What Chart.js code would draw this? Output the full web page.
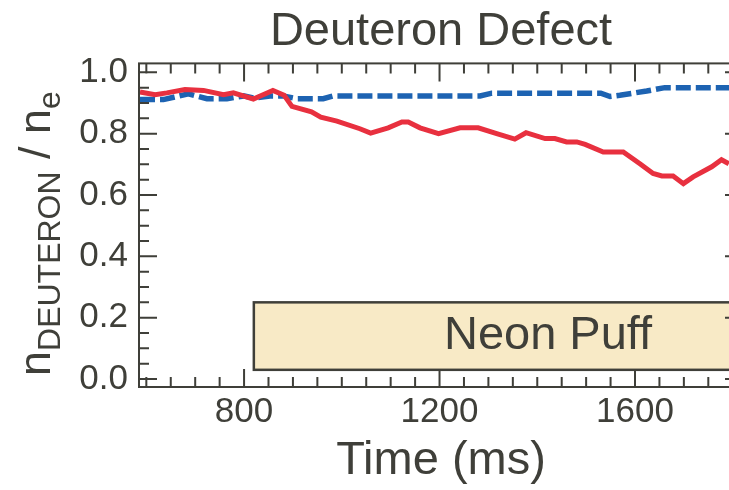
<!DOCTYPE html>
<html>
<head>
<meta charset="utf-8">
<script src="https://cdn.jsdelivr.net/npm/chart.js@4/dist/chart.umd.min.js"></script>
<style>
  html, body { margin: 0; padding: 0; background: #fff; overflow: hidden; }
  canvas { display: block; }
</style>
</head>
<body>
<canvas id="defectChart" width="760" height="490"></canvas>
<script>
// Deuteron fraction
const redTimes = [587, 618, 642, 679, 717, 758, 778, 819, 859, 882, 898, 938, 957, 990, 1037, 1059, 1095, 1123, 1136, 1160, 1198, 1242, 1279, 1317, 1354, 1377, 1416, 1436, 1460, 1481, 1498, 1535, 1576, 1610, 1637, 1655, 1678, 1699, 1719, 1757, 1777, 1792];
const redValues = [0.936, 0.927, 0.933, 0.944, 0.941, 0.927, 0.933, 0.913, 0.941, 0.925, 0.889, 0.871, 0.854, 0.841, 0.816, 0.802, 0.819, 0.838, 0.838, 0.819, 0.800, 0.819, 0.819, 0.800, 0.782, 0.803, 0.784, 0.784, 0.773, 0.773, 0.765, 0.740, 0.740, 0.702, 0.670, 0.662, 0.662, 0.637, 0.659, 0.692, 0.715, 0.702];
const blueTimes = [587, 635, 686, 724, 765, 799, 819, 853, 880, 908, 962, 983, 1283, 1307, 1530, 1549, 1569, 1596, 1624, 1661, 1821];
const blueValues = [0.911, 0.911, 0.930, 0.914, 0.914, 0.923, 0.916, 0.923, 0.923, 0.914, 0.914, 0.923, 0.923, 0.932, 0.932, 0.921, 0.925, 0.932, 0.939, 0.950, 0.950];

const xTickValues = [800, 1200, 1600];
const yTickValues = [0.0, 0.2, 0.4, 0.6, 0.8, 1.0];
const xRange = [585, 1821];
const yRange = [-0.026, 1.029];

// neon puff window
const puffStart = 820;
const puffEnd = 1900;
const puffLow = 0.03;
const puffHigh = 0.25;
const puffLabel = "Neon Puff";
const puffLabelX = 1422;
const puffLabelY = 0.14;

const INK = "#3f3f39";
const FONT = "'Liberation Sans', Arial, sans-serif";

const toPoints = (xs, ys) => xs.map((x, i) => ({ x: x, y: ys[i] }));

// shaded box for the puff
const puffBox = {
  id: "puffBox",
  beforeDatasetsDraw(chart) {
    const { ctx, scales } = chart;
    const x0 = scales.x.getPixelForValue(puffStart);
    const x1 = scales.x.getPixelForValue(puffEnd);
    const y0 = scales.y.getPixelForValue(puffHigh);
    const y1 = scales.y.getPixelForValue(puffLow);
    ctx.save();
    ctx.fillStyle = "#f8eac6";
    ctx.fillRect(x0, y0, x1 - x0, y1 - y0);
    ctx.strokeStyle = INK;
    ctx.lineWidth = 2.5;
    ctx.strokeRect(x0, y0, x1 - x0, y1 - y0);
    ctx.fillStyle = INK;
    ctx.font = "47px " + FONT;
    ctx.textAlign = "center";
    ctx.textBaseline = "middle";
    ctx.fillText(puffLabel, scales.x.getPixelForValue(puffLabelX), scales.y.getPixelForValue(puffLabelY));
    ctx.restore();
  },
};

// frame with inward ticks on all four sides
const frame = {
  id: "frame",
  afterDatasetsDraw(chart) {
    const { ctx, chartArea: a, scales } = chart;
    const major = 18, minor = 10;
    ctx.save();
    ctx.strokeStyle = INK;
    ctx.lineWidth = 2;
    ctx.strokeRect(a.left, a.top, a.right - a.left, a.bottom - a.top);
    ctx.beginPath();
    for (let v = 600; v <= xRange[1]; v += 50) {
      const px = scales.x.getPixelForValue(v);
      const len = xTickValues.includes(v) ? major : minor;
      ctx.moveTo(px, a.bottom); ctx.lineTo(px, a.bottom - len);
      ctx.moveTo(px, a.top); ctx.lineTo(px, a.top + len);
    }
    for (let i = 0; i <= 20; i++) {
      const v = i * 0.05;
      const py = scales.y.getPixelForValue(v);
      const len = i % 4 === 0 ? major : minor;
      ctx.moveTo(a.left, py); ctx.lineTo(a.left + len, py);
      ctx.moveTo(a.right, py); ctx.lineTo(a.right - len, py);
    }
    ctx.stroke();
    ctx.restore();
  },
};

// y title with subscripts, drawn rotated
const yTitle = {
  id: "yTitle",
  afterDraw(chart) {
    const { ctx } = chart;
    const parts = [
      ["n", 45, 0],
      ["DEUTERON", 32, 10],
      [" / n", 45, 0],
      ["e", 32, 10],
    ];
    ctx.save();
    ctx.translate(50, 376);
    ctx.rotate(-Math.PI / 2);
    ctx.fillStyle = INK;
    ctx.textBaseline = "alphabetic";
    ctx.textAlign = "left";
    let pos = 0;
    parts.forEach(([text, size, shift]) => {
      ctx.font = size + "px " + FONT;
      ctx.fillText(text, pos, shift);
      pos += ctx.measureText(text).width;
    });
    ctx.restore();
  },
};

new Chart(document.getElementById("defectChart"), {
  type: "line",
  data: {
    datasets: [
      {
        label: "red",
        data: toPoints(redTimes, redValues),
        borderColor: "#e8303f",
        borderWidth: 5,
        pointRadius: 0,
        tension: 0,
      },
      {
        label: "blue",
        data: toPoints(blueTimes, blueValues),
        borderColor: "#1d63b2",
        borderWidth: 5.5,
        borderDash: [15, 5],
        pointRadius: 0,
        tension: 0,
      },
    ],
  },
  options: {
    responsive: false,
    animation: false,
    devicePixelRatio: 1,
    layout: { padding: { left: 0, right: 17, top: 0, bottom: 0 } },
    plugins: {
      legend: { display: false },
      tooltip: { enabled: false },
      title: {
        display: true,
        fullSize: false,
        text: "Deuteron Defect",
        color: INK,
        font: { family: FONT, size: 47, weight: "normal" },
        padding: { top: 4, bottom: 3 },
      },
    },
    scales: {
      x: {
        type: "linear",
        min: xRange[0],
        max: xRange[1],
        afterBuildTicks: (s) => { s.ticks = xTickValues.map((v) => ({ value: v })); },
        afterFit: (s) => { s.height = 103; },
        grid: { display: false, drawTicks: false },
        border: { display: false },
        ticks: {
          color: INK,
          font: { family: FONT, size: 35 },
          padding: 4,
          maxRotation: 0,
          autoSkip: false,
          callback: (v) => String(v),
        },
        title: {
          display: true,
          text: "Time (ms)",
          color: INK,
          font: { family: FONT, size: 47 },
          padding: { top: 0, bottom: 1 },
        },
      },
      y: {
        min: yRange[0],
        max: yRange[1],
        afterBuildTicks: (s) => { s.ticks = yTickValues.map((v) => ({ value: v })); },
        afterFit: (s) => { s.width = 139; },
        grid: { display: false, drawTicks: false },
        border: { display: false },
        ticks: {
          color: INK,
          font: { family: FONT, size: 35 },
          padding: 11,
          callback: (v) => v.toFixed(1),
        },
      },
    },
  },
  plugins: [puffBox, frame, yTitle],
});
</script>
</body>
</html>
